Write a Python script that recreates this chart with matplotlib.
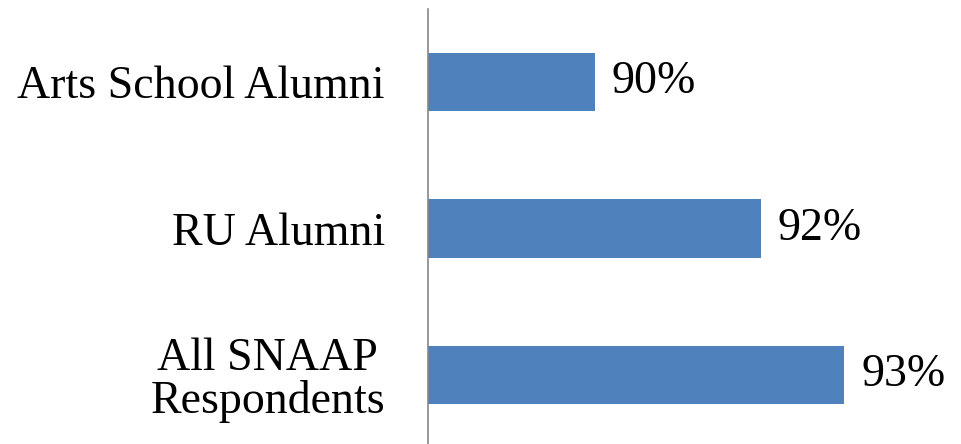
import matplotlib.pyplot as plt

categories = ['All SNAAP\nRespondents', 'RU Alumni', 'Arts School Alumni']
values = [93, 92, 90]
labels = ['93%', '92%', '90%']

plt.rcParams['font.family'] = ['Liberation Serif', 'DejaVu Serif']

fig = plt.figure(figsize=(9.61, 4.44), dpi=100)
ax = fig.add_axes([428 / 961, -4.25 / 444, 1 - 428 / 961, 439.5 / 444])

base = 88
ax.barh(range(len(values)), [v - base for v in values], left=base,
        height=0.4, color='#4F81BD')
for i, (v, t) in enumerate(zip(values, labels)):
    ax.text(v + 0.2, i, t, va='center', ha='left', fontsize=33, color='black',
            clip_on=False)

ax.set_xlim(base, 94.4)
ax.set_ylim(-0.5, 2.5)
ax.set_yticks(range(len(categories)))
ax.set_yticklabels(categories, fontsize=33, linespacing=1.0)
for t in ax.get_yticklabels():
    t.set_multialignment('center')
ax.tick_params(axis='y', length=0, pad=31)
ax.set_xticks([])
for s in ['top', 'right', 'bottom']:
    ax.spines[s].set_visible(False)
ax.spines['left'].set_color('#868686')
ax.spines['left'].set_linewidth(1.2)

fig.savefig('out.png', dpi=100)
